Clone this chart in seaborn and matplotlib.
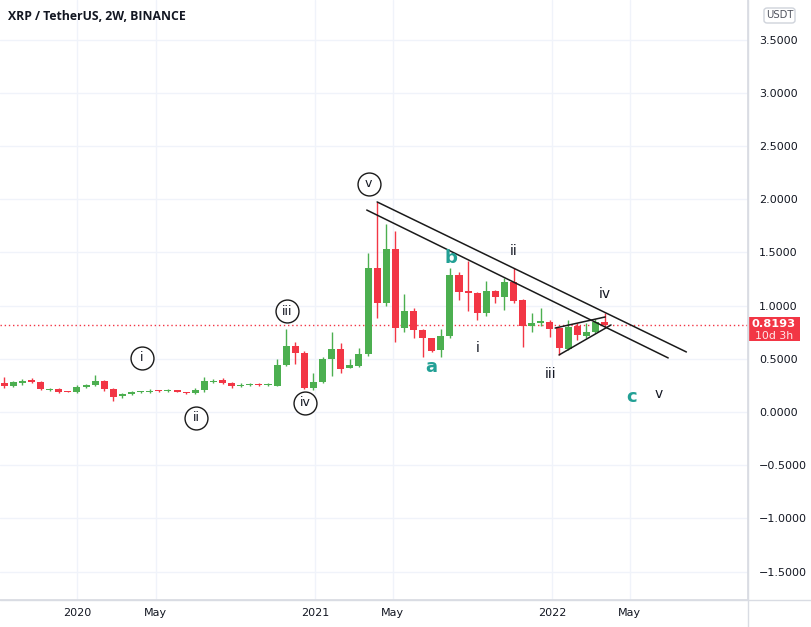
import numpy as np
import pandas as pd
import seaborn as sns
import matplotlib
matplotlib.use("Agg")
import matplotlib.pyplot as plt
import matplotlib.dates as mdates
from matplotlib.patches import Rectangle, FancyBboxPatch
from matplotlib.lines import Line2D

# ---------------- data ----------------
opens = [0.273, 0.244, 0.273, 0.300, 0.282, 0.210, 0.216, 0.197, 0.188, 0.235,
         0.250, 0.290, 0.216, 0.150, 0.170, 0.187, 0.188, 0.200, 0.195, 0.205,
         0.188, 0.178, 0.205, 0.285, 0.300, 0.275, 0.245, 0.250, 0.260, 0.250,
         0.244, 0.442, 0.620, 0.555, 0.226, 0.282, 0.498, 0.592, 0.414, 0.432,
         0.545, 1.353, 1.024, 1.532, 0.789, 0.949, 0.771, 0.695, 0.583, 0.714,
         1.288, 1.137, 1.118, 0.930, 1.137, 1.081, 1.222, 1.053, 0.808, 0.836,
         0.846, 0.789, 0.590, 0.808, 0.714, 0.752, 0.846]
closes = [0.244, 0.282, 0.291, 0.282, 0.216, 0.220, 0.188, 0.190, 0.235, 0.250,
          0.290, 0.216, 0.140, 0.170, 0.188, 0.190, 0.195, 0.193, 0.200, 0.188,
          0.178, 0.205, 0.290, 0.295, 0.275, 0.240, 0.255, 0.260, 0.252, 0.260,
          0.442, 0.620, 0.555, 0.226, 0.282, 0.498, 0.592, 0.404, 0.442, 0.545,
          1.353, 1.024, 1.532, 0.789, 0.949, 0.771, 0.695, 0.573, 0.714, 1.288,
          1.128, 1.118, 0.930, 1.137, 1.081, 1.222, 1.043, 0.808, 0.836, 0.855,
          0.780, 0.602, 0.799, 0.724, 0.752, 0.846, 0.8193]
highs = [0.329, 0.290, 0.310, 0.320, 0.290, 0.230, 0.230, 0.200, 0.250, 0.265,
         0.348, 0.300, 0.230, 0.180, 0.200, 0.195, 0.215, 0.210, 0.215, 0.210,
         0.190, 0.225, 0.329, 0.310, 0.315, 0.280, 0.270, 0.270, 0.270, 0.270,
         0.498, 0.780, 0.658, 0.570, 0.367, 0.520, 0.752, 0.648, 0.498, 0.602,
         1.494, 1.974, 1.767, 1.701, 1.109, 0.977, 0.780, 0.700, 0.780, 1.353,
         1.316, 1.419, 1.130, 1.231, 1.150, 1.259, 1.353, 1.060, 0.930, 0.977,
         0.860, 0.790, 0.865, 0.836, 0.836, 0.874, 0.930]
lows = [0.226, 0.235, 0.254, 0.270, 0.210, 0.200, 0.175, 0.185, 0.180, 0.225,
        0.240, 0.200, 0.105, 0.130, 0.160, 0.180, 0.175, 0.185, 0.190, 0.185,
        0.170, 0.170, 0.190, 0.270, 0.265, 0.230, 0.235, 0.240, 0.245, 0.245,
        0.240, 0.430, 0.451, 0.216, 0.210, 0.275, 0.338, 0.367, 0.410, 0.420,
        0.530, 0.883, 1.000, 0.658, 0.752, 0.695, 0.517, 0.560, 0.517, 0.700,
        1.053, 0.949, 0.865, 0.900, 1.024, 0.959, 1.024, 0.611, 0.752, 0.808,
        0.705, 0.536, 0.580, 0.677, 0.700, 0.740, 0.800]
last_date = "2022-03-23"
last_price = 0.8193

y_ticks = [-1.5, -1.0, -0.5, 0.0, 0.5, 1.0, 1.5, 2.0, 2.5, 3.0, 3.5]
x_tick_dates = ["2020-01-01", "2020-05-01", "2021-01-01", "2021-05-01", "2022-01-01", "2022-05-01"]
x_tick_labels = ["2020", "May", "2021", "May", "2022", "May"]

# Elliott wave labels
circled_labels = ["v", "iii", "iv", "i", "ii"]
circled_dates = ["2021-03-25", "2020-11-19", "2020-12-17", "2020-04-10", "2020-07-02"]
circled_prices = [2.143, 0.949, 0.085, 0.508, -0.056]

teal_labels = ["b", "a", "c"]
teal_dates = ["2021-07-29", "2021-06-30", "2022-05-04"]
teal_prices = [1.447, 0.423, 0.141]

plain_labels = ["ii", "i", "iii", "iv", "v"]
plain_dates = ["2021-11-03", "2021-09-09", "2021-12-30", "2022-03-24", "2022-06-15"]
plain_prices = [1.513, 0.602, 0.357, 1.109, 0.169]

# trend lines: (start date, start price, end date, end price)
line_starts = ["2021-04-07", "2021-03-22", "2022-01-06", "2022-01-12"]
line_start_prices = [1.974, 1.898, 0.789, 0.536]
line_ends = ["2022-07-27", "2022-06-29", "2022-03-24", "2022-04-02"]
line_end_prices = [0.564, 0.508, 0.893, 0.818]

# ---------------- style ----------------
sns.set_theme(style="white")
plt.rcParams["font.family"] = ["DejaVu Sans"]

W, H = 812, 627
fig = plt.figure(figsize=(W / 100, H / 100), dpi=100)
ax = fig.add_axes([0, 27 / H, 748 / W, 600 / H])

GREEN = "#4caf50"
RED = "#f23645"
TEAL = "#22a095"
TXT = "#131722"

df = pd.DataFrame({"date": pd.date_range(end=last_date, periods=len(opens), freq="14D"),
                   "open": opens, "high": highs, "low": lows, "close": closes})
df["up"] = df["close"] >= df["open"]
df["color"] = np.where(df["up"], GREEN, RED)
df["bottom"] = df[["open", "close"]].min(axis=1)
df["height"] = (df["close"] - df["open"]).abs().clip(lower=0.009)

# grid
for t in y_ticks:
    ax.axhline(t, color="#f0f3fa", lw=1, zorder=0)
for d in x_tick_dates:
    ax.axvline(pd.Timestamp(d), color="#f0f3fa", lw=1, zorder=0)

# wicks and bodies
ax.vlines(df["date"], df["low"], df["high"], colors=df["color"], lw=1, zorder=2)
ax.bar(df["date"], df["height"], bottom=df["bottom"], width=10.8, color=df["color"],
       edgecolor="none", zorder=3)

# last price dotted line
ax.axhline(last_price, color=RED, lw=1, ls=(0, (1, 2)), zorder=1)

# trend lines
for s, sp, e, ep in zip(line_starts, line_start_prices, line_ends, line_end_prices):
    ax.plot([pd.Timestamp(s), pd.Timestamp(e)], [sp, ep], color="#1a1a1a", lw=1.1, zorder=4)

# circled labels
for lab, d, p in zip(circled_labels, circled_dates, circled_prices):
    ax.plot([pd.Timestamp(d)], [p], marker="o", ms=16.5, mfc="white", mec="#1a1a1a",
            mew=1.0, zorder=5)
    ax.text(pd.Timestamp(d), p, lab, ha="center", va="center", fontsize=9, color=TXT, zorder=6)

for lab, d, p in zip(teal_labels, teal_dates, teal_prices):
    ax.text(pd.Timestamp(d), p, lab, ha="center", va="center", fontsize=13,
            fontweight="bold", color=TEAL, zorder=6)

for lab, d, p in zip(plain_labels, plain_dates, plain_prices):
    ax.text(pd.Timestamp(d), p, lab, ha="center", va="center", fontsize=10, color=TXT, zorder=6)

# axes limits / ticks
ax.set_xlim(pd.Timestamp("2019-09-04 12:00"), pd.Timestamp("2022-10-29 20:00"))
ax.set_ylim(-1.767, 3.872)
ax.yaxis.tick_right()
ax.set_yticks(y_ticks)
ax.set_yticklabels([f"{v:.4f}".replace("-", "\u2212") for v in y_ticks])
ax.set_xticks([pd.Timestamp(d) for d in x_tick_dates])
ax.set_xticklabels(x_tick_labels)
ax.tick_params(axis="y", length=0, pad=8, labelsize=8.0, labelcolor=TXT)
ax.tick_params(axis="x", length=0, pad=6, labelsize=8.0, labelcolor=TXT)
for lbl in ax.get_yticklabels():
    lbl.set_horizontalalignment("left")
for sp in ["top", "left"]:
    ax.spines[sp].set_visible(False)
ax.spines["right"].set_color("#d9dce3")
ax.spines["bottom"].set_color("#d9dce3")
ax.set_facecolor("white")

# separator lines extending across the figure
fig.add_artist(Line2D([0, 1], [27 / H, 27 / H], color="#d9dce3", lw=1, transform=fig.transFigure))
fig.add_artist(Line2D([748 / W, 748 / W], [0, 1], color="#d9dce3", lw=1, transform=fig.transFigure))

# title
fig.text(8 / W, 1 - 17 / H, "XRP / TetherUS, 2W, BINANCE", fontsize=8.8, fontweight="bold",
         family=["Open Sans", "DejaVu Sans"], color=TXT, va="center", ha="left")

# USDT box
fig.add_artist(FancyBboxPatch((764 / W, 1 - 23 / H), 31 / W, 15 / H,
                              boxstyle="round,pad=0,rounding_size=0.004",
                              fc="white", ec="#cfd3db", lw=1, transform=fig.transFigure))
fig.text(779.5 / W, 1 - 15.5 / H, "USDT", fontsize=7.2, color="#50535e", ha="center", va="center")

# last price label box
fig.add_artist(Rectangle((748 / W, 1 - 341 / H), 52 / W, 24 / H, fc=RED, ec="none",
                         transform=fig.transFigure))
fig.text(774 / W, 1 - 324 / H, f"{last_price:.4f}", fontsize=8.2, fontweight="bold",
         color="white", ha="center", va="center")
fig.text(774 / W, 1 - 336 / H, "10d 3h", fontsize=7.8, color="#ffe8ea", ha="center", va="center")

fig.savefig("out.png", dpi=100, facecolor="white")
